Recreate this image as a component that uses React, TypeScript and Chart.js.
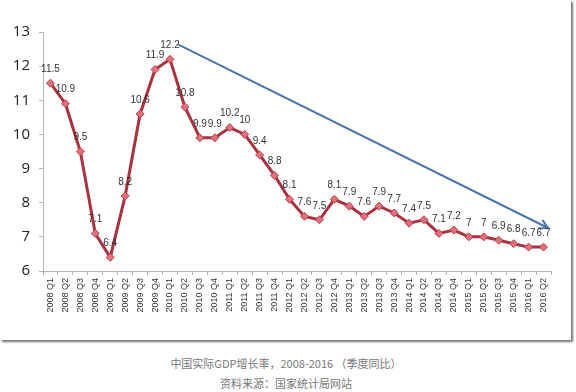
import React, { useEffect, useRef } from "react";
import { Chart, registerables } from "chart.js";

Chart.register(...registerables);

const categories = [
  "2008 Q1", "2008 Q2", "2008 Q3", "2008 Q4",
  "2009 Q1", "2009 Q2", "2009 Q3", "2009 Q4",
  "2010 Q1", "2010 Q2", "2010 Q3", "2010 Q4",
  "2011 Q1", "2011 Q2", "2011 Q3", "2011 Q4",
  "2012 Q1", "2012 Q2", "2012 Q3", "2012 Q4",
  "2013 Q1", "2013 Q2", "2013 Q3", "2013 Q4",
  "2014 Q1", "2014 Q2", "2014 Q3", "2014 Q4",
  "2015 Q1", "2015 Q2", "2015 Q3", "2015 Q4",
  "2016 Q1", "2016 Q2",
];

const gdpGrowth = [
  11.5, 10.9, 9.5, 7.1,
  6.4, 8.2, 10.6, 11.9,
  12.2, 10.8, 9.9, 9.9,
  10.2, 10, 9.4, 8.8,
  8.1, 7.6, 7.5, 8.1,
  7.9, 7.6, 7.9, 7.7,
  7.4, 7.5, 7.1, 7.2,
  7, 7, 6.9, 6.8,
  6.7, 6.7,
];

const yMin = 6;
const yMax = 13;

// trend arrow: [category index, value]
const trendFrom = [8.6, 12.62];
const trendTo = [33.3, 7.26];

const captionTitle = "中国实际GDP增长率，2008-2016 （季度同比）";
const captionSource = "资料来源：国家统计局网站";

const labelPlugin = {
  id: "labelsAndArrow",
  afterDatasetsDraw(chart: any) {
    const ctx = chart.ctx;
    const xs = chart.scales.x;
    const ys = chart.scales.y;
    // arrow
    const x1 = xs.getPixelForValue(trendFrom[0]);
    const y1 = ys.getPixelForValue(trendFrom[1]);
    const x2 = xs.getPixelForValue(trendTo[0]);
    const y2 = ys.getPixelForValue(trendTo[1]);
    ctx.save();
    ctx.strokeStyle = "#4d74a8";
    ctx.lineWidth = 2;
    ctx.lineCap = "round";
    ctx.beginPath();
    ctx.moveTo(x1, y1);
    ctx.lineTo(x2, y2);
    ctx.stroke();
    const ang = Math.atan2(y2 - y1, x2 - x1);
    const hl = 9;
    ctx.beginPath();
    ctx.moveTo(x2 - hl * Math.cos(ang - 0.5), y2 - hl * Math.sin(ang - 0.5));
    ctx.lineTo(x2, y2);
    ctx.lineTo(x2 - hl * Math.cos(ang + 0.5), y2 - hl * Math.sin(ang + 0.5));
    ctx.stroke();
    ctx.restore();

    // data labels
    const meta = chart.getDatasetMeta(0);
    ctx.save();
    ctx.fillStyle = "#333";
    ctx.font = "10px 'Liberation Sans', sans-serif";
    ctx.textAlign = "center";
    ctx.textBaseline = "middle";
    meta.data.forEach((pt: any, i: number) => {
      ctx.fillText(String(gdpGrowth[i]), pt.x, pt.y - 14);
    });
    ctx.restore();
  },
};

export default function App() {
  const ref = useRef<HTMLCanvasElement>(null);

  useEffect(() => {
    const chart = new Chart(ref.current as HTMLCanvasElement, {
      type: "line",
      data: {
        labels: categories,
        datasets: [
          {
            data: gdpGrowth,
            borderColor: "#a8323f",
            borderWidth: 3,
            pointStyle: "rectRot",
            pointRadius: 4,
            pointBackgroundColor: "#e2707a",
            pointBorderColor: "#b8404c",
            pointBorderWidth: 1,
            tension: 0,
          },
        ],
      },
      options: {
        responsive: false,
        animation: false,
        devicePixelRatio: 1,
        layout: { padding: { top: 32, right: 20, left: 0, bottom: 0 } },
        plugins: { legend: { display: false }, tooltip: { enabled: false } },
        scales: {
          x: {
            offset: true,
            grid: {
              drawOnChartArea: false,
              drawTicks: true,
              tickLength: 4,
              color: "#b5b5b5",
              offset: true,
            },
            border: { display: true, color: "#b5b5b5" },
            ticks: {
              autoSkip: false,
              minRotation: 90,
              maxRotation: 90,
              padding: 3,
              color: "#333",
              font: { family: "'Liberation Sans', sans-serif", size: 9 },
            },
            afterFit(scale: any) {
              scale.height = 69;
            },
          },
          y: {
            min: yMin,
            max: yMax,
            ticks: {
              stepSize: 1,
              padding: 9,
              color: "#222",
              font: { family: "'Open Sans', sans-serif", size: 15 },
            },
            grid: {
              drawOnChartArea: false,
              drawTicks: true,
              tickLength: 4,
              color: "#b5b5b5",
            },
            border: { display: true, color: "#b5b5b5" },
            afterFit(scale: any) {
              scale.width = 43;
            },
          },
        },
      },
      plugins: [labelPlugin],
    } as any);
    return () => chart.destroy();
  }, []);

  return (
    <div
      style={{
        position: "fixed",
        left: 0,
        top: 0,
        width: 576,
        height: 392,
        background: "#fff",
      }}
    >
      <div
        style={{
          position: "absolute",
          left: 0,
          top: 0,
          width: 571,
          height: 340,
          background: "#fff",
          boxShadow: "2px 2px 2px rgba(0,0,0,0.55)",
        }}
      >
        <canvas
          ref={ref}
          width={571}
          height={340}
          style={{ display: "block", width: 571, height: 340 }}
        />
      </div>
      <div
        style={{
          position: "absolute",
          left: 0,
          width: 572,
          top: 355,
          textAlign: "center",
          fontFamily: "'Noto Sans CJK SC', sans-serif",
          fontSize: 11,
          color: "#777",
          lineHeight: "16px",
          whiteSpace: "pre",
        }}
      >
        {captionTitle}
      </div>
      <div
        style={{
          position: "absolute",
          left: 0,
          width: 572,
          top: 375,
          textAlign: "center",
          fontFamily: "'Noto Sans CJK SC', sans-serif",
          fontSize: 11,
          color: "#777",
          lineHeight: "16px",
        }}
      >
        {captionSource}
      </div>
    </div>
  );
}
